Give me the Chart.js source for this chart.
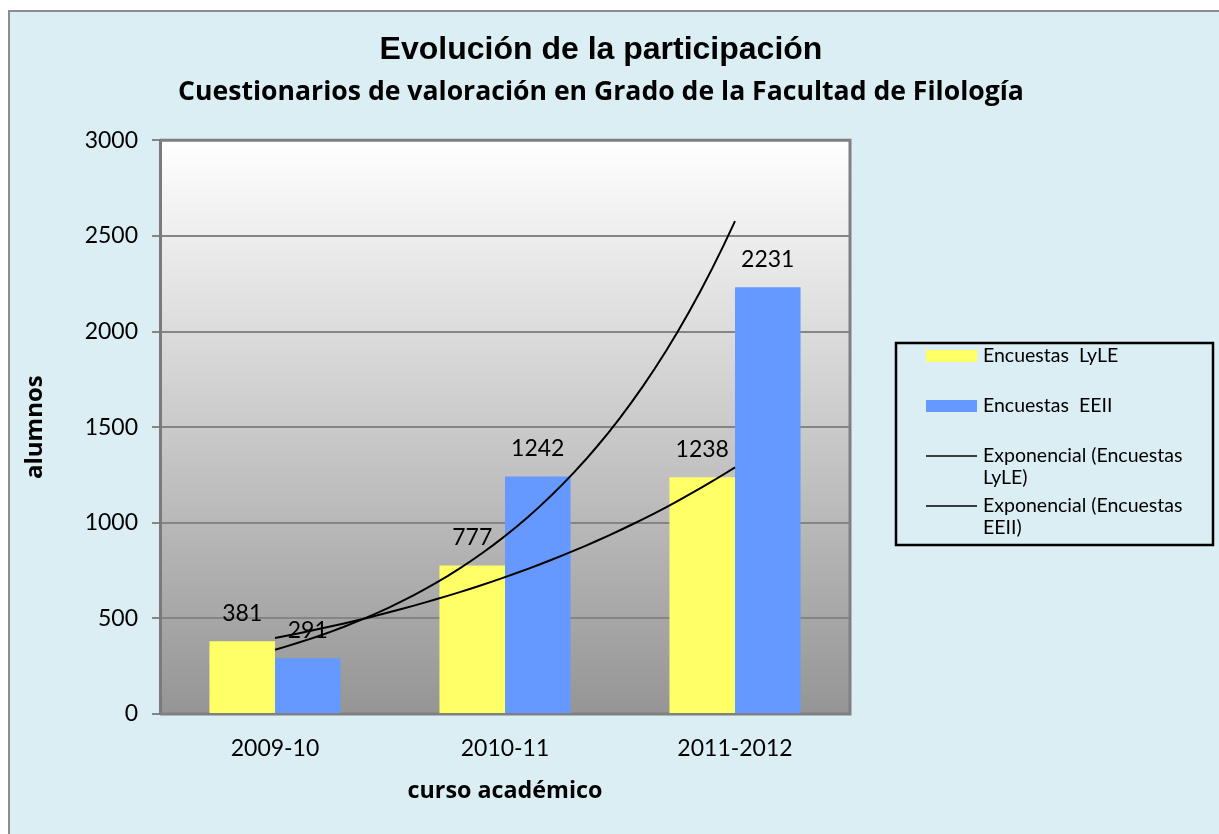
<!DOCTYPE html>
<html lang="es">
<head>
<meta charset="UTF-8">
<title>Evolución de la participación</title>
<script src="https://cdn.jsdelivr.net/npm/chart.js@4.4.1/dist/chart.umd.min.js"></script>
<style>
  html, body { margin: 0; padding: 0; background: #fff; }
</style>
</head>
<body>
<canvas id="grafico" width="1219" height="834"></canvas>
<script>
// datos
const cursos = ['2009-10', '2010-11', '2011-2012'];
const encuestasLyLE = [381, 777, 1238];
const encuestasEEII = [291, 1242, 2231];
const ticksY = [0, 500, 1000, 1500, 2000, 2500, 3000];

// linea de tendencia exponencial (ajuste por minimos cuadrados sobre ln y, como Excel)
function ajusteExp(vals) {
  const n = vals.length;
  const xs = vals.map((v, i) => i + 1);
  const ls = vals.map(v => Math.log(v));
  const mx = xs.reduce((a, b) => a + b, 0) / n;
  const ml = ls.reduce((a, b) => a + b, 0) / n;
  let num = 0, den = 0;
  for (let i = 0; i < n; i++) {
    num += (xs[i] - mx) * (ls[i] - ml);
    den += (xs[i] - mx) * (xs[i] - mx);
  }
  const b = num / den;
  const a = ml - b * mx;
  const pts = [];
  for (let x = 1; x <= n + 1e-9; x += 0.05) {
    pts.push({ x: x, y: Math.exp(a + b * x) });
  }
  return pts;
}

const tendencias = [
  { label: 'Exponencial (Encuestas LyLE)', puntos: ajusteExp(encuestasLyLE) },
  { label: 'Exponencial (Encuestas EEII)', puntos: ajusteExp(encuestasEEII) }
];

const fondo = {
  id: 'fondo',
  beforeDraw(chart) {
    const { ctx, chartArea: a } = chart;
    ctx.save();
    ctx.fillStyle = '#ffffff';
    ctx.fillRect(0, 0, chart.width, chart.height);
    ctx.fillStyle = '#dbeef4';
    ctx.fillRect(9, 11, chart.width, chart.height);
    ctx.strokeStyle = '#8c8c8c';
    ctx.lineWidth = 2;
    ctx.strokeRect(9, 11, chart.width + 10, chart.height + 10);
    const g = ctx.createLinearGradient(0, a.top, 0, a.bottom);
    g.addColorStop(0, '#ffffff');
    g.addColorStop(1, '#959595');
    ctx.fillStyle = g;
    ctx.fillRect(a.left, a.top, a.right - a.left, a.bottom - a.top);
    ctx.restore();
  },
  beforeDatasetsDraw(chart) {
    const { ctx, chartArea: a } = chart;
    ctx.save();
    ctx.strokeStyle = '#808080';
    ctx.lineWidth = 3;
    ctx.beginPath();
    ctx.moveTo(a.left, a.top);
    ctx.lineTo(a.right, a.top);
    ctx.lineTo(a.right, a.bottom);
    ctx.lineTo(a.left, a.bottom);
    ctx.stroke();
    ctx.restore();
  }
};

// tendencias dibujadas con las escalas del grafico (eje xt oculto + eje y)
const lineasTendencia = {
  id: 'lineasTendencia',
  afterDatasetsDraw(chart) {
    const { ctx, chartArea: a } = chart;
    const sx = chart.scales.xt, sy = chart.scales.y;
    ctx.save();
    ctx.beginPath();
    ctx.rect(a.left, a.top, a.right - a.left, a.bottom - a.top);
    ctx.clip();
    ctx.strokeStyle = '#000';
    ctx.lineWidth = 2;
    tendencias.forEach(t => {
      ctx.beginPath();
      t.puntos.forEach((p, i) => {
        const px = sx.getPixelForValue(p.x), py = sy.getPixelForValue(p.y);
        if (i === 0) ctx.moveTo(px, py); else ctx.lineTo(px, py);
      });
      ctx.stroke();
    });
    ctx.restore();
  }
};

const etiquetas = {
  id: 'etiquetas',
  afterDatasetsDraw(chart) {
    const ctx = chart.ctx;
    ctx.save();
    ctx.fillStyle = '#000';
    ctx.font = '23px Lato';
    ctx.textAlign = 'center';
    ctx.textBaseline = 'middle';
    chart.data.datasets.forEach((ds, di) => {
      chart.getDatasetMeta(di).data.forEach((el, i) => {
        ctx.fillText(String(ds.data[i]), el.x, el.y - 28);
      });
    });
    ctx.restore();
  }
};

const leyenda = {
  id: 'leyenda',
  afterDraw(chart) {
    const { ctx, chartArea: a } = chart;
    const bx = a.right + 46, by = 343, bw = 317, bh = 202;
    const items = chart.data.datasets.map(ds => ({ label: ds.label, color: ds.backgroundColor, linea: false }))
      .concat(tendencias.map(t => ({ label: t.label, color: '#000', linea: true })));
    ctx.save();
    ctx.strokeStyle = '#000';
    ctx.lineWidth = 2.5;
    ctx.strokeRect(bx, by, bw, bh);
    ctx.font = '19.5px Lato';
    ctx.textBaseline = 'middle';
    items.forEach((it, i) => {
      const yc = by + 13 + i * 50;
      const sx = bx + 30;
      if (it.linea) {
        ctx.strokeStyle = it.color;
        ctx.lineWidth = 1.5;
        ctx.beginPath();
        ctx.moveTo(sx, yc);
        ctx.lineTo(sx + 51, yc);
        ctx.stroke();
      } else {
        ctx.fillStyle = it.color;
        ctx.fillRect(sx, yc - 6, 51, 12);
      }
      ctx.fillStyle = '#000';
      // partir el texto en lineas que quepan en la caja
      const palabras = it.label.split(' ');
      const lineas = [];
      let actual = '';
      palabras.forEach(p => {
        const prueba = actual ? actual + ' ' + p : p;
        if (ctx.measureText(prueba).width > 220 && actual) {
          lineas.push(actual);
          actual = p;
        } else {
          actual = prueba;
        }
      });
      lineas.push(actual);
      lineas.forEach((l, k) => ctx.fillText(l, sx + 57, yc + k * 22));
    });
    ctx.restore();
  }
};

new Chart(document.getElementById('grafico'), {
  type: 'bar',
  data: {
    labels: cursos,
    datasets: [
      { label: 'Encuestas  LyLE', data: encuestasLyLE, backgroundColor: '#ffff66' },
      { label: 'Encuestas  EEII', data: encuestasEEII, backgroundColor: '#6699ff' }
    ]
  },
  options: {
    responsive: false,
    animation: false,
    devicePixelRatio: 1,
    layout: { padding: { left: 11, top: 11, right: 28, bottom: 10 } },
    datasets: { bar: { categoryPercentage: 0.57, barPercentage: 1 } },
    plugins: {
      legend: { display: false },
      tooltip: { enabled: false },
      title: {
        display: true,
        text: 'Evolución de la participación',
        color: '#000',
        font: { family: 'Liberation Sans', size: 32, weight: 'bold', lineHeight: 1.2 },
        padding: { top: 20, bottom: 0 }
      },
      subtitle: {
        display: true,
        text: 'Cuestionarios de valoración en Grado de la Facultad de Filología',
        color: '#000',
        font: { family: 'Open Sans', size: 26.6, weight: 'bold', lineHeight: 1.2 },
        padding: { top: 7, bottom: 32 }
      }
    },
    scales: {
      x: {
        type: 'category',
        offset: true,
        grid: { display: false, drawTicks: false },
        border: { display: false },
        ticks: { color: '#000', font: { family: 'Lato', size: 23 }, padding: 21 },
        title: { display: true, text: 'curso académico', color: '#000',
                 font: { family: 'Open Sans', size: 23.3, weight: 'bold' }, padding: { top: 0, bottom: 19 } },
        afterFit(s) { s.height = 110; }
      },
      // eje x continuo oculto para las lineas de tendencia (1 = primer curso)
      xt: { type: 'linear', axis: 'x', min: 0.5, max: 3.5, offset: false, display: false },
      y: {
        min: ticksY[0],
        max: ticksY[ticksY.length - 1],
        ticks: { stepSize: ticksY[1] - ticksY[0], color: '#000', font: { family: 'Lato', size: 23 }, padding: 14,
                 callback: v => String(v) },
        grid: { color: '#858585', lineWidth: 2, tickLength: 8 },
        border: { display: true, color: '#7a7a7a', width: 3 },
        title: { display: true, text: 'alumnos', color: '#000',
                 font: { family: 'Open Sans', size: 24, weight: 'bold' }, padding: { top: 10, bottom: 0 } },
        afterFit(s) { s.width = 149; }
      },
      // eje derecho vacio: reserva el hueco de la leyenda
      hueco: {
        type: 'linear',
        axis: 'y',
        position: 'right',
        display: true,
        grid: { display: false, drawTicks: false },
        border: { display: false },
        ticks: { display: false },
        afterFit(s) { s.width = 341; }
      }
    }
  },
  plugins: [fondo, lineasTendencia, etiquetas, leyenda]
});
</script>
</body>
</html>
